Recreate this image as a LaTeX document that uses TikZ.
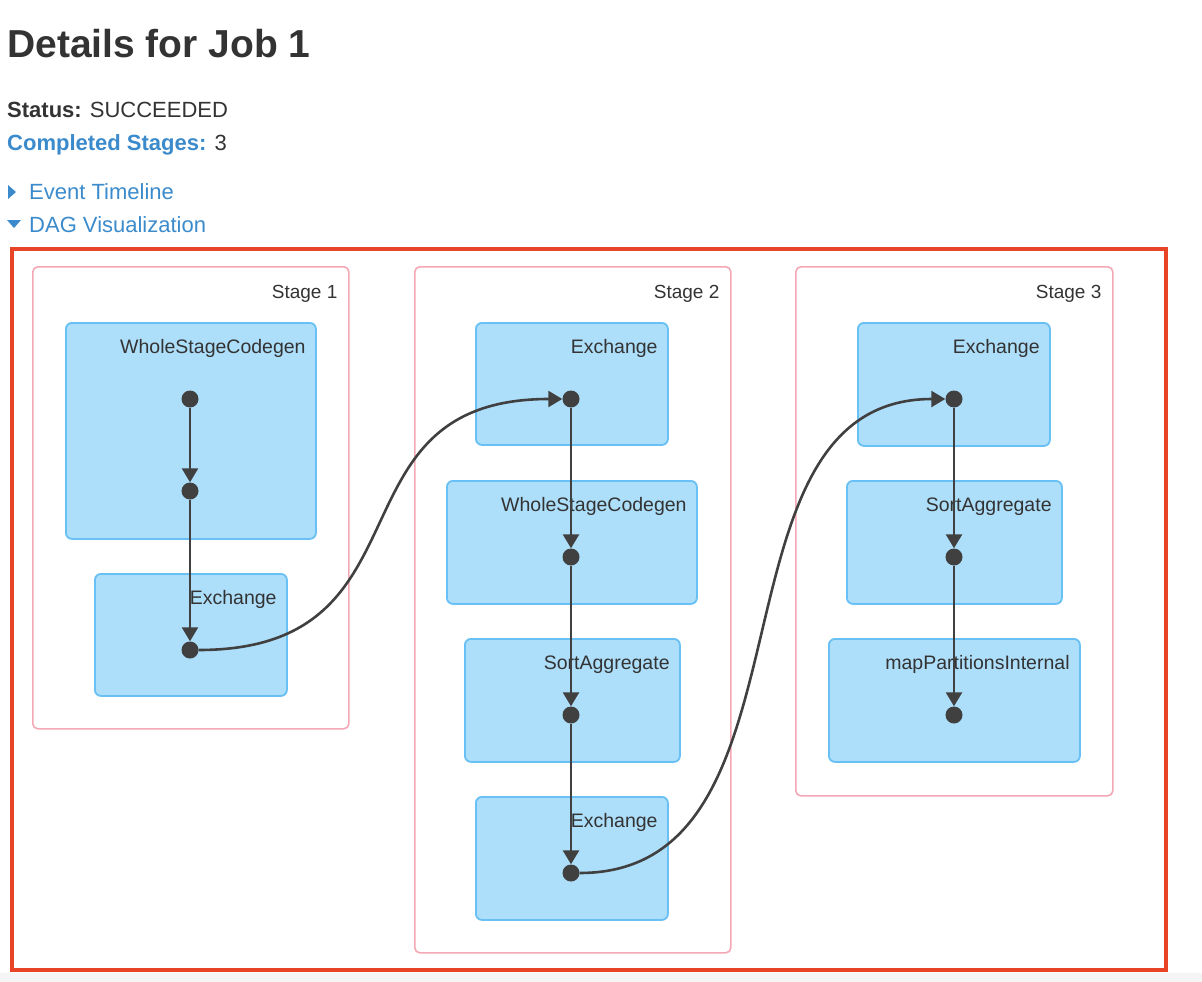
\documentclass[tikz,border=0pt]{standalone}
\usepackage{fontspec}
\setmainfont{Liberation Sans}
\usetikzlibrary{arrows.meta}

\definecolor{txtgray}{RGB}{51,51,51}
\definecolor{linkblue}{RGB}{59,139,204}
\definecolor{framered}{RGB}{232,69,40}
\definecolor{stagepink}{RGB}{244,168,182}
\definecolor{opfill}{RGB}{173,222,250}
\definecolor{opline}{RGB}{104,192,245}
\definecolor{dotgray}{RGB}{64,64,64}
\definecolor{footgray}{RGB}{245,245,245}

\tikzset{
    stagebox/.style={draw=stagepink, line width=1.6, rounded corners=5, anchor=north west, inner sep=0},
    opbox/.style={draw=opline, fill=opfill, line width=1.8, rounded corners=6, anchor=north west, inner sep=0},
    oplabel/.style={font=\fontsize{19.5}{22}\selectfont, text=txtgray, inner sep=0, anchor=base east},
    stagelabel/.style={font=\fontsize{19}{22}\selectfont, text=txtgray, inner sep=0, anchor=base east},
    dot/.style={circle, fill=dotgray, minimum size=17, inner sep=0},
    flow/.style={draw=dotgray, line width=2.6, -{Triangle[width=16pt, length=14pt]}},
}

\begin{document}
\begin{tikzpicture}[x=1pt, y=-1pt]
    \useasboundingbox (0,0) rectangle (1202,982);
    \fill[footgray] (0,973) rectangle (1202,982);

    % 页面标题与状态
    \node[font=\fontsize{39}{44}\selectfont\bfseries, text=txtgray, inner sep=0, anchor=base west] (title) at (7,58) {Details for Job 1};
    \node[font=\fontsize{22}{26}\selectfont, text=txtgray, inner sep=0, anchor=base west] (status) at (7,117) {\textbf{Status:} SUCCEEDED};
    \node[font=\fontsize{22}{26}\selectfont, text=txtgray, inner sep=0, anchor=base west] (stages) at (7,150) {\textcolor{linkblue}{\textbf{Completed Stages:}} 3};
    \fill[linkblue] (8,185) -- (8,199) -- (16,192) -- cycle;
    \node[font=\fontsize{22}{26}\selectfont, text=linkblue, inner sep=0, anchor=base west] (timeline) at (29,199) {Event Timeline};
    \fill[linkblue] (7,220) -- (21,220) -- (14,228) -- cycle;
    \node[font=\fontsize{22}{26}\selectfont, text=linkblue, inner sep=0, anchor=base west] (dagviz) at (29,232) {DAG Visualization};

    % 红色外框
    \draw[framered, line width=4] (12,249) rectangle (1166,970);

    % 三个 stage
    \node[stagebox, minimum width=316, minimum height=462] (stg1) at (32,266) {};
    \node[stagebox, minimum width=316, minimum height=686] (stg2) at (414,266) {};
    \node[stagebox, minimum width=317, minimum height=529] (stg3) at (795,266) {};
    \node[stagelabel] (stg1-l) at ([xshift=-12, yshift=-32]stg1.north east) {Stage 1};
    \node[stagelabel] (stg2-l) at ([xshift=-12, yshift=-32]stg2.north east) {Stage 2};
    \node[stagelabel] (stg3-l) at ([xshift=-12, yshift=-32]stg3.north east) {Stage 3};

    % 算子方框
    \node[opbox, minimum width=250, minimum height=216] (wsc1) at (65,322) {};
    \node[opbox, minimum width=192, minimum height=122] (exc1) at (94,573) {};
    \node[opbox, minimum width=192, minimum height=122] (exc2) at (475,322) {};
    \node[opbox, minimum width=250, minimum height=123] (wsc2) at (446,480) {};
    \node[opbox, minimum width=215, minimum height=123] (sag2) at (464,638) {};
    \node[opbox, minimum width=192, minimum height=123] (exc3) at (475,796) {};
    \node[opbox, minimum width=192, minimum height=123] (exc4) at (857,322) {};
    \node[opbox, minimum width=215, minimum height=123] (sag3) at (846,480) {};
    \node[opbox, minimum width=251, minimum height=123] (mpi3) at (828,638) {};

    \node[oplabel] (wsc1-l) at ([xshift=-11, yshift=-31]wsc1.north east) {WholeStageCodegen};
    \node[oplabel] (exc1-l) at ([xshift=-11, yshift=-31]exc1.north east) {Exchange};
    \node[oplabel] (exc2-l) at ([xshift=-11, yshift=-31]exc2.north east) {Exchange};
    \node[oplabel] (wsc2-l) at ([xshift=-11, yshift=-31]wsc2.north east) {WholeStageCodegen};
    \node[oplabel] (sag2-l) at ([xshift=-11, yshift=-31]sag2.north east) {SortAggregate};
    \node[oplabel] (exc3-l) at ([xshift=-11, yshift=-31]exc3.north east) {Exchange};
    \node[oplabel] (exc4-l) at ([xshift=-11, yshift=-31]exc4.north east) {Exchange};
    \node[oplabel] (sag3-l) at ([xshift=-11, yshift=-31]sag3.north east) {SortAggregate};
    \node[oplabel] (mpi3-l) at ([xshift=-11, yshift=-31]mpi3.north east) {mapPartitionsInternal};

    % RDD 点
    \node[dot] (d1) at (190,399) {};
    \node[dot] (d2) at (190,491) {};
    \node[dot] (d3) at (190,650) {};
    \node[dot] (d4) at (571,399) {};
    \node[dot] (d5) at (571,557) {};
    \node[dot] (d6) at (571,715) {};
    \node[dot] (d7) at (571,873) {};
    \node[dot] (d8) at (954,399) {};
    \node[dot] (d9) at (954,557) {};
    \node[dot] (d10) at (954,715) {};

    % 依赖边
    \draw[flow] (d1) -- (d2);
    \draw[flow] (d2) -- (d3);
    \draw[flow] (d3) .. controls +(248,0) and +(-248,0) .. (d4);
    \draw[flow] (d4) -- (d5);
    \draw[flow] (d5) -- (d6);
    \draw[flow] (d6) -- (d7);
    \draw[flow] (d7) .. controls +(255,0) and +(-255,0) .. (d8);
    \draw[flow] (d8) -- (d9);
    \draw[flow] (d9) -- (d10);
\end{tikzpicture}
\end{document}
